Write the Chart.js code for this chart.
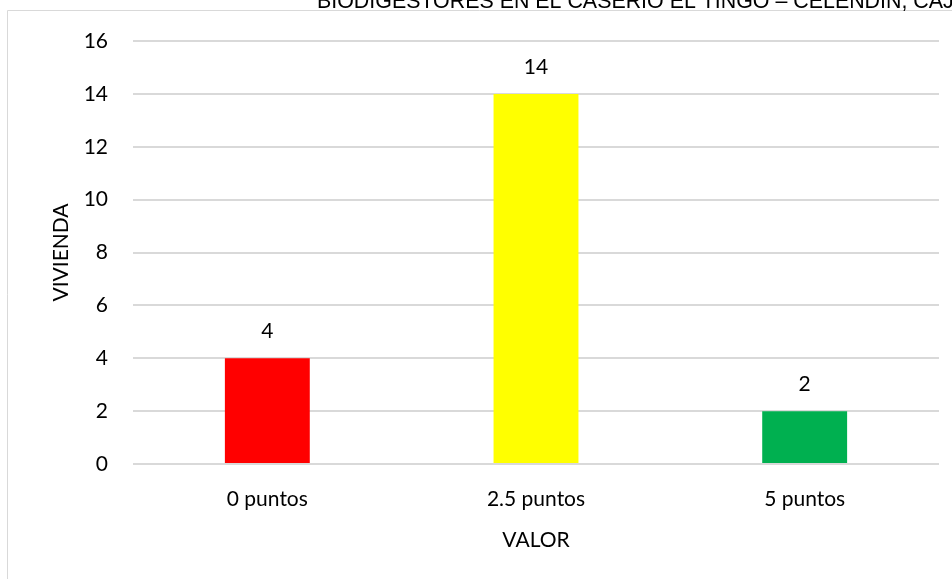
<!DOCTYPE html>
<html>
<head>
<meta charset="utf-8">
<script src="https://cdn.jsdelivr.net/npm/chart.js@4.4.1/dist/chart.umd.min.js"></script>
<style>
  html, body { margin: 0; padding: 0; background: #fff; }
  #wrap { position: relative; width: 952px; height: 579px; }
</style>
</head>
<body>
<div id="wrap"><canvas id="chart"></canvas></div>
<script>
const categories = ['0 puntos', '2.5 puntos', '5 puntos']
const viviendas = [4, 14, 2]
const barColors = ['#FF0000', '#FFFF00', '#00B050']
const yTicks = [0, 2, 4, 6, 8, 10, 12, 14, 16]
const titleText = 'BIODIGESTORES EN EL CASERIO EL TINGO – CELENDIN, CAJAMARCA'

// border of the chart box + the cut title on top
const frame = {
    id: 'frame',
    beforeDraw(chart) {
        const ctx = chart.ctx
        ctx.save()
        ctx.strokeStyle = '#d9d9d9'
        ctx.lineWidth = 1
        ctx.beginPath()
        ctx.moveTo(7.5, chart.height)
        ctx.lineTo(7.5, 10.5)
        ctx.lineTo(chart.width, 10.5)
        ctx.stroke()
        ctx.fillStyle = '#000'
        ctx.font = '21.4px "Liberation Sans", Arial, sans-serif'
        ctx.textBaseline = 'alphabetic'
        ctx.textAlign = 'left'
        ctx.fillText(titleText, 317, 8)
        ctx.restore()
    }
}

// value labels above bars
const barLabels = {
    id: 'barLabels',
    afterDatasetsDraw(chart) {
        const ctx = chart.ctx
        const meta = chart.getDatasetMeta(0)
        ctx.save()
        ctx.fillStyle = '#000'
        ctx.font = '21px Lato, sans-serif'
        ctx.textAlign = 'center'
        ctx.textBaseline = 'middle'
        meta.data.forEach((bar, i) => {
            ctx.fillText(String(viviendas[i]), bar.x, bar.y - 27)
        })
        ctx.restore()
    }
}

new Chart('chart', {
    type: 'bar',
    data: {
        labels: categories,
        datasets: [{
            label: 'VIVIENDA',
            data: viviendas,
            backgroundColor: barColors,
            borderWidth: 0,
            categoryPercentage: 0.316,
            barPercentage: 1
        }]
    },
    options: {
        responsive: true,
        maintainAspectRatio: false,
        animation: false,
        layout: { padding: { top: 41, right: 13, left: 0, bottom: 0 } },
        plugins: {
            legend: { display: false },
            tooltip: { enabled: false }
        },
        scales: {
            x: {
                grid: { display: false, drawTicks: false },
                border: { display: false },
                ticks: { color: '#000', padding: 23, font: { family: 'Lato', size: 21 } },
                title: {
                    display: true, text: 'VALOR', color: '#000',
                    font: { family: 'Lato', size: 21 },
                    padding: { top: 0, bottom: 26 }
                },
                afterFit(scale) { scale.height = 115 }
            },
            y: {
                min: 0,
                max: 16,
                grid: { color: '#d9d9d9', lineWidth: 2, drawTicks: false },
                border: { display: false },
                afterBuildTicks(scale) { scale.ticks = yTicks.map(v => ({ value: v })) },
                ticks: { color: '#000', padding: 25, font: { family: 'Lato', size: 21 } },
                title: {
                    display: true, text: 'VIVIENDA', color: '#000',
                    font: { family: 'Lato', size: 21 },
                    padding: { top: 49, bottom: 0 }
                },
                afterFit(scale) { scale.width = 133 }
            }
        }
    },
    plugins: [frame, barLabels]
})
</script>
</body>
</html>
